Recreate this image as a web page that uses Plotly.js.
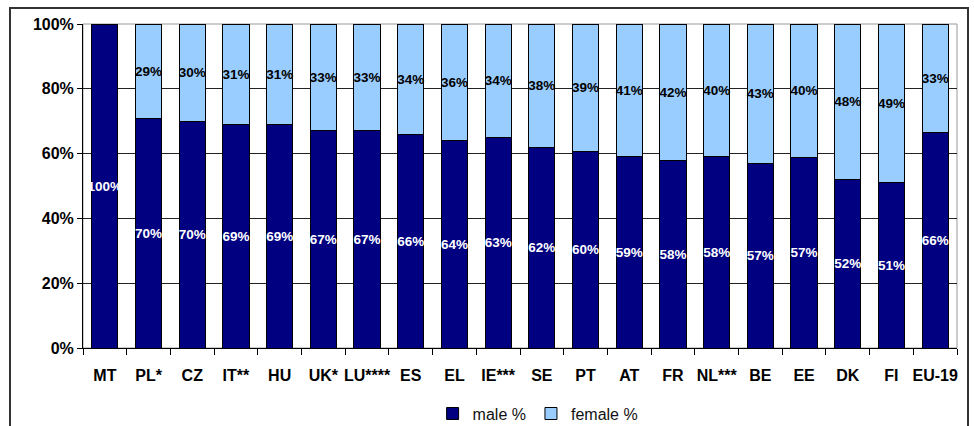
<!DOCTYPE html>
<html>
<head>
<meta charset="utf-8">
<script src="https://cdn.plot.ly/plotly-3.0.1.min.js"></script>
<style>
  html, body { margin: 0; padding: 0; background: #fff; }
  #wrap { position: relative; width: 974px; height: 426px; }
  #chart { width: 974px; height: 426px; }
  #frame {
    position: absolute; left: 9px; top: 7px; width: 956px; height: 440px;
    border: 2px solid #333; pointer-events: none;
  }
</style>
</head>
<body>
<div id="wrap">
  <div id="chart"></div>
  <div id="frame"></div>
</div>
<script>
// Share of men and women per country (%)
const countries = ["MT", "PL*", "CZ", "IT**", "HU", "UK*", "LU****", "ES", "EL", "IE***",
                   "SE", "PT", "AT", "FR", "NL***", "BE", "EE", "DK", "FI", "EU-19"];
const malePct   = [100, 70, 70, 69, 69, 67, 67, 66, 64, 63, 62, 60, 59, 58, 58, 57, 57, 52, 51, 66];
const femalePct = [0, 29, 30, 31, 31, 33, 33, 34, 36, 34, 38, 39, 41, 42, 40, 43, 40, 48, 49, 33];

const FONT = '"Liberation Sans", Arial, sans-serif';
const pctText = v => (v > 0 ? v + "%" : "");

const male = {
  type: "bar", name: "male %", x: countries, y: malePct,
  text: malePct.map(pctText), textposition: "inside", insidetextanchor: "middle",
  textangle: 0, constraintext: "none",
  insidetextfont: { family: FONT, size: 13.5, color: "#ffffff", weight: "bold" },
  marker: { color: "#000080", line: { color: "#000000", width: 1 } },
  hoverinfo: "skip"
};
const female = {
  type: "bar", name: "female %", x: countries, y: femalePct,
  text: femalePct.map(pctText), textposition: "inside", insidetextanchor: "middle",
  textangle: 0, constraintext: "none",
  insidetextfont: { family: FONT, size: 13.5, color: "#000000", weight: "bold" },
  marker: { color: "#99CCFF", line: { color: "#000000", width: 1 } },
  hoverinfo: "skip"
};

const layout = {
  width: 974, height: 426,
  margin: { l: 83, r: 17, t: 24, b: 78, autoexpand: false },
  paper_bgcolor: "rgba(0,0,0,0)", plot_bgcolor: "#ffffff",
  barmode: "stack", barnorm: "percent", bargap: 0.4,
  font: { family: FONT, color: "#000" },
  showlegend: true,
  legend: {
    orientation: "h", x: 0.40, xanchor: "left", y: -0.15, yanchor: "top",
    itemwidth: 30,
    font: { family: FONT, size: 16, color: "#111" }, traceorder: "normal",
    bgcolor: "rgba(0,0,0,0)"
  },
  xaxis: {
    type: "category", showgrid: false, zeroline: false, automargin: false,
    showline: true, linecolor: "#000", linewidth: 1,
    ticks: "outside", tickson: "boundaries", ticklen: 6, tickcolor: "#000",
    tickangle: 0, ticklabelstandoff: 13,
    tickfont: { family: FONT, size: 16, color: "#000", weight: "bold" }
  },
  yaxis: {
    range: [0, 100], dtick: 20, ticksuffix: "%", automargin: false,
    showgrid: true, gridcolor: "#222", gridwidth: 1, zeroline: false,
    showline: true, linecolor: "#000", linewidth: 1,
    ticks: "outside", ticklen: 5, tickcolor: "#000",
    tickfont: { family: FONT, size: 16, color: "#000", weight: "bold" }
  },
  shapes: [{
    type: "rect", xref: "paper", yref: "paper", x0: 0, x1: 1, y0: 0, y1: 1,
    line: { color: "#999", width: 1 }, layer: "below"
  }]
};

Plotly.newPlot("chart", [male, female], layout, { displayModeBar: false, staticPlot: true });
</script>
</body>
</html>
